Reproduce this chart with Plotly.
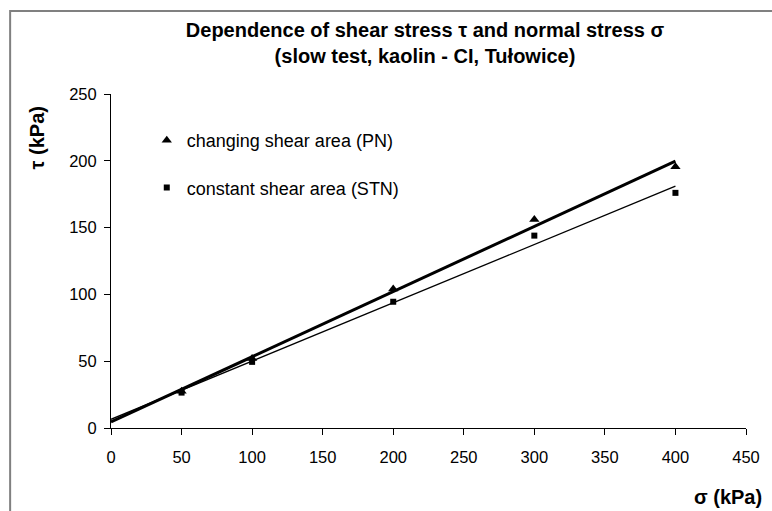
import numpy as np
import plotly.graph_objects as go

# ---- data ----
sigma = [50, 100, 200, 300, 400]                 # normal stress (kPa)
tau_pn = [27.5, 52, 104, 156, 195.5]             # changing shear area (PN)
tau_stn = [26.5, 49.5, 94.5, 144, 176]           # constant shear area (STN)
trend_x = [0, 400]                               # extent of linear trendlines
x_ticks = [0, 50, 100, 150, 200, 250, 300, 350, 400, 450]
y_ticks = [0, 50, 100, 150, 200, 250]

FONT = "Liberation Sans, Arial, sans-serif"

# linear trendlines (least squares) from the data
k_pn, b_pn = np.polyfit(sigma, tau_pn, 1)
k_stn, b_stn = np.polyfit(sigma, tau_stn, 1)
tx = np.array(trend_x, dtype=float)

fig = go.Figure()
fig.add_trace(go.Scatter(x=tx, y=k_pn * tx + b_pn, mode="lines",
                         line=dict(color="black", width=3), showlegend=False,
                         hoverinfo="skip"))
fig.add_trace(go.Scatter(x=tx, y=k_stn * tx + b_stn, mode="lines",
                         line=dict(color="black", width=1.3), showlegend=False,
                         hoverinfo="skip"))
fig.add_trace(go.Scatter(x=sigma, y=tau_pn, mode="markers",
                         name="changing shear area (PN)", legendgroup="a",
                         marker=dict(symbol="triangle-up", size=9, color="black")))
fig.add_trace(go.Scatter(x=sigma, y=tau_stn, mode="markers",
                         name="constant shear area (STN)", legendgroup="b",
                         marker=dict(symbol="square", size=6, color="black")))

L, R, T, B = 111, 22, 94, 83
W, H = 772, 511
pw, ph = W - L - R, H - T - B

def px(xp):
    return (xp - L) / pw

def py(yp):
    return (H - B - yp) / ph

fig.update_layout(
    width=W, height=H,
    margin=dict(l=L, r=R, t=T, b=B),
    paper_bgcolor="white", plot_bgcolor="white",
    font=dict(family=FONT, size=16.5, color="black"),
    title=dict(
        text="<b>Dependence of shear stress τ and normal stress σ<br>(slow test, kaolin - CI, Tułowice)</b>",
        x=425 / W, xref="container", xanchor="center",
        y=1 - 37 / H, yref="container", yanchor="middle",
        font=dict(family=FONT, size=20, color="black"),
    ),
    xaxis=dict(range=[0, 450], tickvals=x_ticks, ticks="outside", ticklen=6,
               tickcolor="black", showline=True, linecolor="black", linewidth=1,
               showgrid=False, zeroline=False, ticklabelstandoff=8,
               tickfont=dict(size=16.5)),
    yaxis=dict(range=[0, 250], tickvals=y_ticks, ticks="outside", ticklen=6,
               tickcolor="black", showline=True, linecolor="black", linewidth=1,
               showgrid=False, zeroline=False, ticklabelstandoff=4,
               tickfont=dict(size=16.5)),
    legend=dict(x=px(147), y=py(122), xanchor="left", yanchor="top",
                bgcolor="rgba(0,0,0,0)", tracegroupgap=21,
                font=dict(family=FONT, size=18)),
    showlegend=True,
)

fig.add_annotation(text="<b>τ (kPa)</b>", xref="paper", yref="paper",
                   x=px(37), y=py(138), textangle=-90, showarrow=False,
                   xanchor="center", yanchor="middle",
                   font=dict(family=FONT, size=20, color="black"))
fig.add_annotation(text="<b>σ (kPa)</b>", xref="paper", yref="paper",
                   x=px(768), y=py(497), showarrow=False,
                   xanchor="right", yanchor="middle",
                   font=dict(family=FONT, size=20, color="black"))

# grey chart-area border
fig.add_shape(type="rect", xref="paper", yref="paper",
              x0=px(9.5), x1=px(800), y0=py(540), y1=py(11),
              line=dict(color="#808080", width=2), fillcolor="rgba(0,0,0,0)")

fig.write_html("out.html",
               config={"displayModeBar": False},
               post_script="document.body.style.margin='0';"
                           "document.body.style.overflow='hidden';")
